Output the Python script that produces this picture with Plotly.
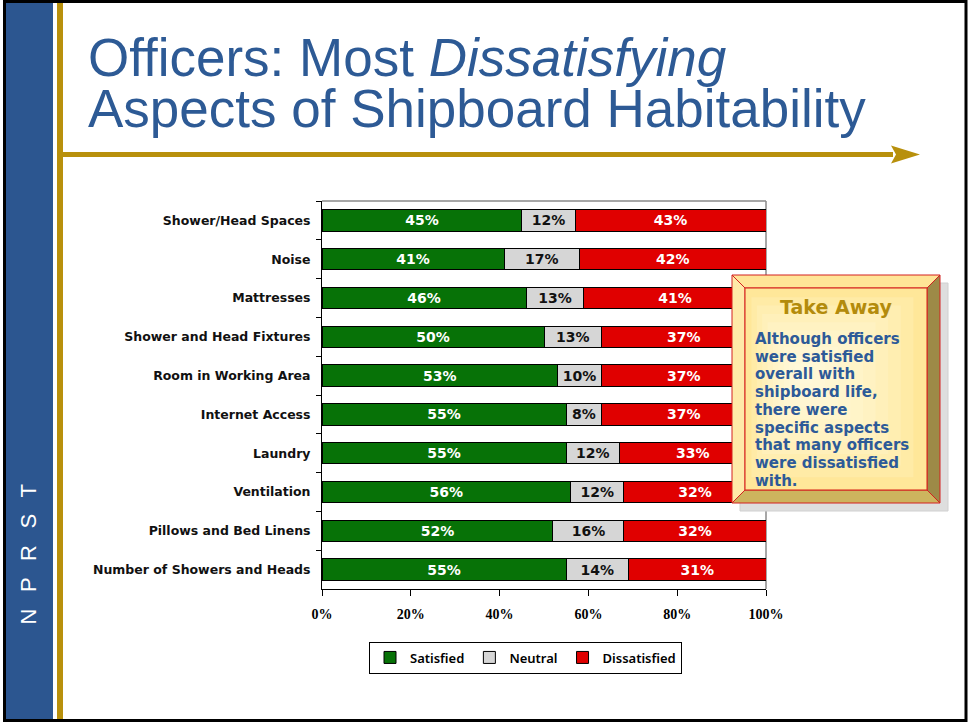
import plotly.graph_objects as go

# Survey results, top row first
aspects = [
    "Shower/Head Spaces",
    "Noise",
    "Mattresses",
    "Shower and Head Fixtures",
    "Room in Working Area",
    "Internet Access",
    "Laundry",
    "Ventilation",
    "Pillows and Bed Linens",
    "Number of Showers and Heads",
]
satisfied = [45, 41, 46, 50, 53, 55, 55, 56, 52, 55]
neutral = [12, 17, 13, 13, 10, 8, 12, 12, 16, 14]
dissatisfied = [43, 42, 41, 37, 37, 37, 33, 32, 32, 31]

x_ticks = [0, 20, 40, 60, 80, 100]
x_tick_labels = ["0%", "20%", "40%", "60%", "80%", "100%"]

takeaway_lines = [
    "Although officers",
    "were satisfied",
    "overall with",
    "shipboard life,",
    "there were",
    "specific aspects",
    "that many officers",
    "were dissatisfied",
    "with.",
]

W, H = 968, 723
PL, PR, PT, PB = 322, 766, 201, 589  # plot-area edges in pixels


def px(x):
    return (x - PL) / (PR - PL)


def py(y):
    return (PB - y) / (PB - PT)


BLUE = "#2C5690"
GOLD = "#B8900C"
TITLE_BLUE = "#2D5A95"
LABEL_FONT = "DejaVu Sans"

series = [
    ("Satisfied", satisfied, "#077207", "white"),
    ("Neutral", neutral, "#D6D6D6", "#111111"),
    ("Dissatisfied", dissatisfied, "#E00000", "white"),
]

fig = go.Figure()
for name, vals, color, tcolor in series:
    fig.add_trace(go.Bar(
        name=name,
        y=aspects,
        x=vals,
        orientation="h",
        marker=dict(color=color, line=dict(color="black", width=1)),
        text=[f"{v}%" for v in vals],
        textposition="inside",
        insidetextanchor="middle",
        textangle=0,
        constraintext="none",
        textfont=dict(family=LABEL_FONT, size=14, color=tcolor, weight="bold"),
        hoverinfo="skip",
    ))

shapes = []


def rect(x0, y0, x1, y1, fill, line=None, width=0, layer="below"):
    shapes.append(dict(
        type="rect", xref="paper", yref="paper",
        x0=px(x0), x1=px(x1), y0=py(y0), y1=py(y1),
        fillcolor=fill, line=dict(color=line or fill, width=width), layer=layer,
    ))


def poly(points, fill, line, width=1, layer="above"):
    path = "M " + " L ".join(f"{px(a)},{py(b)}" for a, b in points) + " Z"
    shapes.append(dict(
        type="path", xref="paper", yref="paper", path=path,
        fillcolor=fill, line=dict(color=line, width=width), layer=layer,
    ))


# Slide decoration: side band, gold rules, arrow
rect(6, 3, 53, 719, BLUE)
rect(57, 3, 63, 719, GOLD)
rect(63, 152, 893, 157, GOLD)
poly([(891, 145.5), (920, 154.5), (891, 163.5), (896, 154.5)], GOLD, GOLD, 0, "below")

# Grey top and right edges of the plot area
shapes.append(dict(type="line", xref="paper", yref="paper", x0=0, x1=1, y0=1, y1=1,
                   line=dict(color="#8A8A8A", width=1.5), layer="below"))
shapes.append(dict(type="line", xref="paper", yref="paper", x0=1, x1=1, y0=0, y1=1,
                   line=dict(color="#8A8A8A", width=1.5), layer="below"))

# Take Away call-out: shadow, bevelled frame, face
bx0, by0, bx1, by1 = 732, 275, 940, 503
ix0, iy0, ix1, iy1 = 745, 288, 927, 490
rect(bx0 + 8, by0 + 8, bx1 + 8, by1 + 8, "#DEDEDE", "#D0D0D0", 1, "above")
RED = "#D42020"
poly([(bx0, by0), (bx1, by0), (ix1, iy0), (ix0, iy0)], "#FFE597", RED)
poly([(bx0, by0), (ix0, iy0), (ix0, iy1), (bx0, by1)], "#FFEAA8", RED)
poly([(bx1, by0), (bx1, by1), (ix1, iy1), (ix1, iy0)], "#9D8A47", RED)
poly([(bx0, by1), (ix0, iy1), (ix1, iy1), (bx1, by1)], "#CDB45E", RED)
poly([(ix0, iy0), (ix1, iy0), (ix1, iy1), (ix0, iy1)], "#FFE38A", RED)
# soft light glow on the face, built up from nested translucent layers
cx, cy = 800, 372
steps = 10
for k in range(steps):
    f = 1 - k / steps
    x0 = cx - (cx - ix0 - 1) * f
    x1 = cx + (ix1 - 1 - cx) * f
    y0 = cy - (cy - iy0 - 1) * f
    y1 = cy + (iy1 - 1 - cy) * f
    poly([(x0, y0), (x1, y0), (x1, y1), (x0, y1)],
         "rgba(255,252,238,0.16)", "rgba(0,0,0,0)", 0)

# Outer slide frame
shapes.append(dict(type="rect", xref="paper", yref="paper",
                   x0=px(4.5), x1=px(966), y0=py(1.5), y1=py(720.5),
                   line=dict(color="black", width=3), fillcolor="rgba(0,0,0,0)", layer="above"))

annotations = []


def text(x, y, s, size, color, family, weight="normal", anchor="left", angle=0):
    annotations.append(dict(
        xref="paper", yref="paper", x=px(x), y=py(y), text=s, showarrow=False,
        xanchor=anchor, yanchor="middle", textangle=angle,
        font=dict(family=family, size=size, color=color, weight=weight),
    ))


text(86, 57, "Officers: Most <i>Dissatisfying</i>", 53, TITLE_BLUE, "Liberation Sans")
text(86, 109, "Aspects of Shipboard Habitability", 53, TITLE_BLUE, "Liberation Sans")
text(27.5, 554, "N\u2002\u2005P\u2002\u2005R\u2002\u2005S\u2002\u2005T", 22, "white",
     "Liberation Sans", angle=-90, anchor="center")

text(836, 307, "Take Away", 19, "#B38B0C", LABEL_FONT, "bold", "center")
for i, line in enumerate(takeaway_lines):
    text(753, 339 + i * 17.7, line, 15, "#2D5A98", LABEL_FONT, "bold")

fig.update_layout(
    width=W, height=H,
    margin=dict(l=PL, r=W - PR, t=PT, b=H - PB, pad=0),
    paper_bgcolor="white", plot_bgcolor="white",
    barmode="stack", bargap=0.45,
    showlegend=True,
    legend=dict(
        orientation="h", x=px(525.5), y=py(657.5), xanchor="center", yanchor="middle",
        bgcolor="white", bordercolor="black", borderwidth=1,
        font=dict(family="Noto Sans", size=13, color="black", weight=600),
        itemwidth=30, traceorder="normal",
    ),
    xaxis=dict(
        range=[0, 100], tickvals=x_ticks, ticktext=x_tick_labels,
        showgrid=False, zeroline=False,
        showline=True, linecolor="black", linewidth=1,
        ticks="outside", ticklen=6, tickcolor="black",
        tickfont=dict(family="Liberation Serif", size=14, color="black", weight="bold"),
        ticklabelstandoff=6, automargin=False, fixedrange=True,
    ),
    yaxis=dict(
        autorange="reversed", showgrid=False, zeroline=False,
        showline=True, linecolor="black", linewidth=1,
        ticks="outside", ticklen=5, tickcolor="black", tickson="boundaries",
        tickfont=dict(family=LABEL_FONT, size=12.5, color="#111111", weight="bold"),
        ticklabelstandoff=8, automargin=False, fixedrange=True,
    ),
    shapes=shapes,
    annotations=annotations,
)

fig.write_html("out.html", config={"displayModeBar": False})
